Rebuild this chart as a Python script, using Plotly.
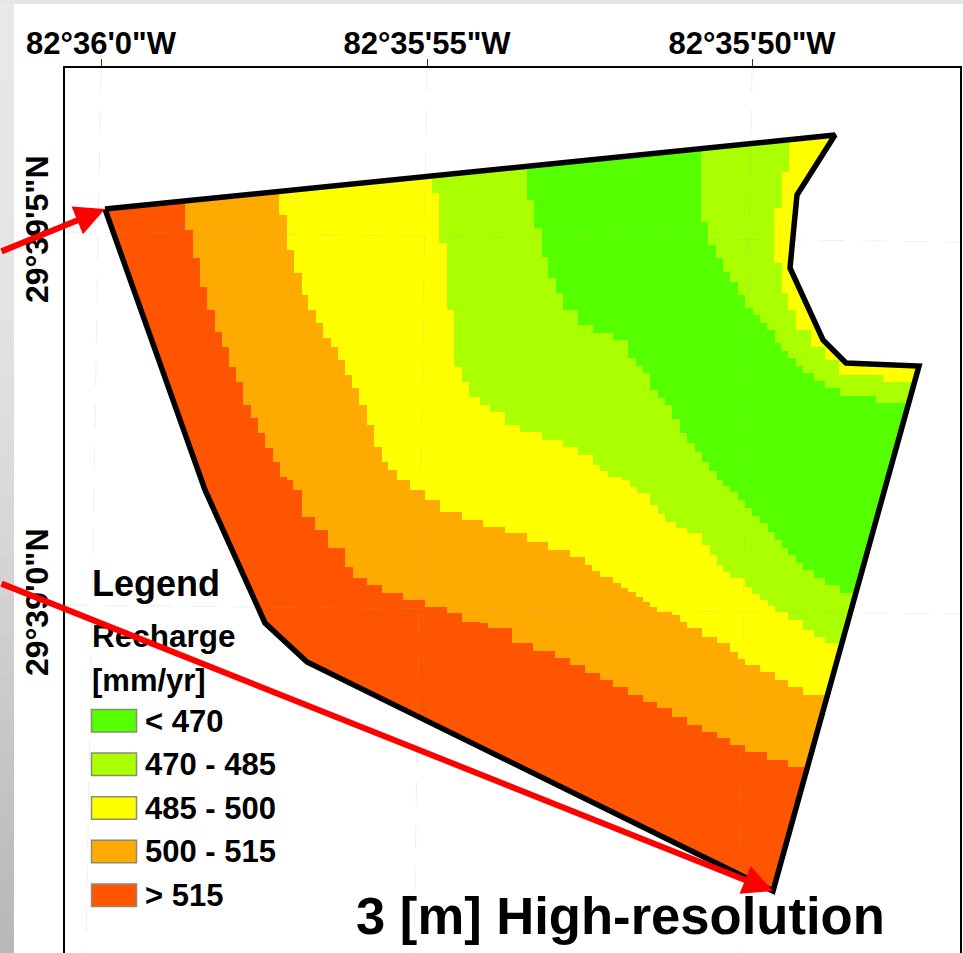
import plotly.graph_objects as go

# Colours and legend
LEGEND_LABELS = ["< 470", "470 - 485", "485 - 500", "500 - 515", "> 515"]
GREEN, LIME, YELLOW, ORANGE, RED = "#55FF00", "#AAFF00", "#FFFF00", "#FFAA00", "#FF5500"
LEGEND_COLORS = [GREEN, LIME, YELLOW, ORANGE, RED]

# Site outline (digitised map coordinates)
OUT_X = [105, 835, 797, 790, 823, 846, 919, 773, 307, 265, 205, 105]
OUT_Y = [209, 135, 195, 268, 340, 363, 366, 891, 662, 623, 490, 209]

B1_X = [185,185,193,200,207,215,222,229,236,243,251,258,265,273,280,287,293,302,315,328,345,353,367,382,403,425,447,462,480,488,512,533,555,570,585,600,613,628,643,657,672,687,702,717,730,745,767,788,810]
B1_Y = [205,230,258,287,310,332,347,367,382,405,418,433,448,462,477,480,490,517,530,548,567,578,585,593,600,607,613,622,623,628,643,651,658,665,673,680,687,695,702,708,717,725,732,738,745,752,760,767,767]
B2_X = [279,279,287,294,302,308,316,323,331,338,345,352,359,367,374,382,388,397,410,425,440,462,483,505,527,548,570,585,592,600,613,621,628,636,643,650,657,672,680,687,702,717,730,738,745,760,775,788,803,830]
B2_Y = [195,215,250,273,295,310,323,338,347,360,375,388,405,425,447,462,470,480,490,500,512,520,527,533,542,550,557,565,571,577,583,588,592,597,602,607,612,615,622,628,637,643,652,659,665,672,680,687,695,695]
B3_X = [432,432,439,447,454,462,469,480,490,505,520,542,563,578,593,600,608,622,630,637,650,658,665,676,687,702,710,717,723,730,745,752,760,768,775,788,803,814,825,845]
B3_Y = [180,193,243,310,367,382,397,405,412,425,432,440,447,455,465,471,477,480,487,493,505,514,522,528,533,545,555,565,572,578,587,594,600,606,612,620,630,637,643,643]
B4_X = [527,527,534,542,548,556,563,578,593,613,628,636,643,650,658,665,672,680,687,695,702,709,717,723,730,738,745,752,760,768,775,782,788,796,803,814,825,840,860]
B4_Y = [168,200,228,257,278,293,310,325,333,340,358,366,373,390,398,405,419,433,443,452,462,471,480,486,492,500,508,516,523,532,540,548,555,563,570,578,585,593,593]
B5_X = [701,701,708,716,723,730,738,745,753,760,767,775,781,788,796,803,814,825,840,876,910]
B5_Y = [150,222,245,258,272,282,295,308,315,323,330,343,351,358,366,373,381,388,396,403,403]
B6_X = [789,789,782,774,782,788,796,811,825,839,883,920]
B6_Y = [140,172,208,263,293,310,330,347,360,375,382,382]

# Graticule: each line's two ends
GRID_V_TOP = [101, 427, 752]
GRID_V_BOTTOM = [86, 414, 738]
GRID_H_LEFT = [232, 605]
GRID_H_RIGHT = [242, 614]
Y_TICK_POS = [234, 607]
X_TICKS = ["82°36'0\"W", "82°35'55\"W", "82°35'50\"W"]
Y_TICKS = ["29°39'5\"N", "29°39'0\"N"]

# Grey slide margin, top to bottom
STRIP_GREYS = [232, 232, 232, 232, 231, 231, 231, 231, 230, 230, 230, 229, 229, 228, 228, 227, 226, 225, 224, 223,
               222, 221, 220, 219, 218, 216, 215, 214, 212, 211, 209, 208, 206, 205, 203, 202, 200, 199, 197, 196,
               194, 193, 191, 190, 188, 187, 186, 185]

TOP, LEFT, RIGHT, BOTTOM = 68, 64.5, 960, 953
W, H = 963, 953
FONT = "Liberation Sans"
fig = go.Figure()


def band(xs, ys, color):
    px = xs + [955, 955, xs[0]]
    py = ys + [ys[-1], 90, 90]
    fig.add_trace(go.Scatter(x=px, y=py, mode="lines", fill="toself", fillcolor=color,
                             line=dict(width=0, shape="hv", color=color), hoverinfo="skip"))


# red base, then each class painted over the one before
fig.add_trace(go.Scatter(x=[90, 940, 940, 90], y=[120, 120, 900, 900], mode="lines", fill="toself",
                         fillcolor=RED, line=dict(width=0), hoverinfo="skip"))
band(B1_X, B1_Y, ORANGE)
band(B2_X, B2_Y, YELLOW)
band(B3_X, B3_Y, LIME)
band(B4_X, B4_Y, GREEN)
band(B5_X, B5_Y, LIME)
band(B6_X, B6_Y, YELLOW)

# white mask outside the site: a frame with a keyhole cut through to the outline
mx = [LEFT, RIGHT, RIGHT, LEFT, LEFT] + OUT_X[::-1] + [LEFT]
my = [TOP, TOP, BOTTOM, BOTTOM, TOP] + OUT_Y[::-1] + [TOP]
fig.add_trace(go.Scatter(x=mx, y=my, mode="lines", fill="toself", fillcolor="white",
                         line=dict(width=0), hoverinfo="skip"))

# faint graticule
for a, b in zip(GRID_V_TOP, GRID_V_BOTTOM):
    fig.add_trace(go.Scatter(x=[a, b], y=[TOP, BOTTOM], mode="lines", hoverinfo="skip",
                             line=dict(color="rgba(170,170,170,0.2)", width=1, dash="24px,18px")))
for a, b in zip(GRID_H_LEFT, GRID_H_RIGHT):
    fig.add_trace(go.Scatter(x=[LEFT, RIGHT], y=[a, b], mode="lines", hoverinfo="skip",
                             line=dict(color="rgba(170,170,170,0.2)", width=1, dash="24px,18px")))

# site outline
fig.add_trace(go.Scatter(x=OUT_X, y=OUT_Y, mode="lines", hoverinfo="skip",
                         line=dict(color="black", width=5.5)))

shapes = []
n = len(STRIP_GREYS)
for i, g in enumerate(STRIP_GREYS):
    # each rect runs to the bottom and the next overpaints it, so no seams show
    shapes.append(dict(type="rect", xref="paper", yref="paper", x0=0, x1=14 / W,
                       y0=1 - i / n, y1=0,
                       fillcolor=f"rgb({g},{g},{g})", line_width=0, layer="below"))
shapes.append(dict(type="rect", xref="paper", yref="paper", x0=0, x1=1,
                   y0=1 - 4 / H, y1=1, fillcolor="#E6E6E6", line_width=0, layer="below"))

annots = []


def text(x, y, s, size):
    annots.append(dict(x=x, y=y, text=s, showarrow=False, xanchor="left", yanchor="middle",
                       font=dict(family=FONT, size=size, color="black", weight="bold")))


text(90, 583, "Legend", 36)
text(90, 636, "Recharge", 31.5)
text(90, 680, "[mm/yr]", 31)
for i, (lab, col) in enumerate(zip(LEGEND_LABELS, LEGEND_COLORS)):
    y0 = 709.5 + 43.6 * i
    shapes.append(dict(type="rect", x0=91.5, x1=136.5, y0=y0, y1=y0 + 22.5, fillcolor=col,
                       line=dict(color="#8C8C70", width=1.5), layer="above"))
    text(143, y0 + 11.5, lab, 31)
text(354, 915, "3 [m] High-resolution", 52.6)

# red arrows
for (tx, ty, ax, ay) in [(105, 209, 0, 252), (773, 891, 0, 583)]:
    annots.append(dict(x=tx, y=ty, ax=ax, ay=ay, axref="x", ayref="y", text="", showarrow=True,
                       arrowhead=2, arrowsize=1, arrowwidth=6, arrowcolor="#FF0000"))

xfont = dict(family=FONT, size=31, color="black", weight="bold")
yfont = dict(family=FONT, size=32, color="black", weight="bold")
fig.update_layout(
    width=W, height=H, margin=dict(l=0, r=0, t=0, b=0, autoexpand=False), showlegend=False,
    paper_bgcolor="white", plot_bgcolor="white", shapes=shapes, annotations=annots,
    xaxis=dict(range=[LEFT, RIGHT], domain=[LEFT / W, RIGHT / W], side="top", showgrid=False, zeroline=False,
               showline=True, linecolor="black", linewidth=1.5, ticks="outside", ticklen=7, tickcolor="#333",
               tickvals=GRID_V_TOP, ticktext=X_TICKS, tickangle=0, ticklabelstandoff=-7, tickfont=xfont),
    yaxis=dict(range=[BOTTOM, TOP], domain=[0, 1 - TOP / H], showgrid=False, zeroline=False,
               showline=True, mirror=True, linecolor="black", linewidth=1.5, ticks="", ticklabelstandoff=2,
               tickvals=Y_TICK_POS, ticktext=Y_TICKS, tickangle=-90, tickfont=yfont),
)
fig.write_html("out.html", config=dict(displayModeBar=False),
               post_script="document.body.style.margin='0';document.body.style.overflow='hidden';")
